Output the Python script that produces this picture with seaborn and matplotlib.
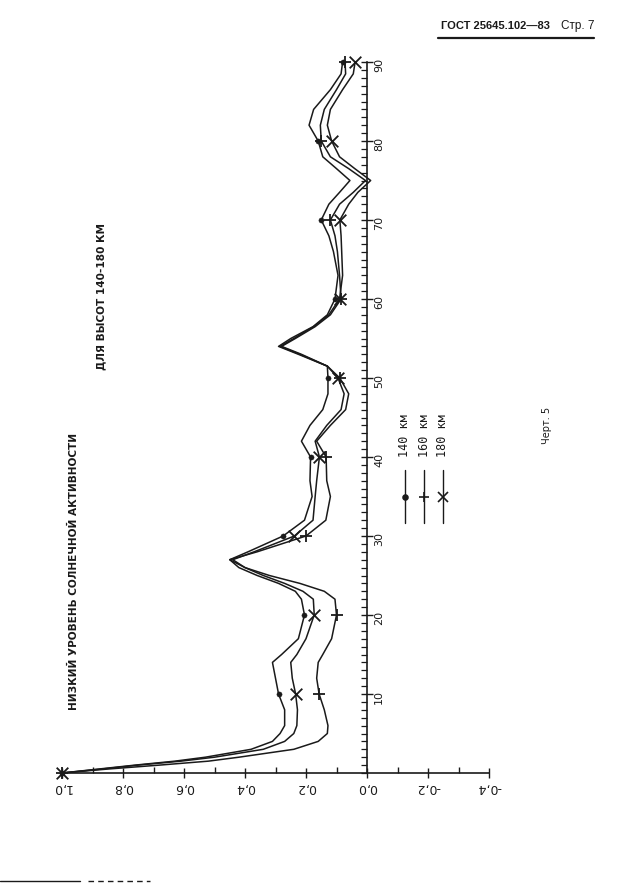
import numpy as np
import pandas as pd
import matplotlib
matplotlib.use('Agg')
import matplotlib.pyplot as plt
from matplotlib import font_manager as fm
import seaborn as sns
from matplotlib.lines import Line2D

sns.set_style('white')
plt.rcParams['font.family'] = ['DejaVu Sans']

# distance along the (rotated) horizontal axis, 0..90
dist = [0, 0.5, 1, 1.5, 2, 3, 4, 5, 6, 8, 10, 12, 14, 15, 17, 20, 22, 23, 24, 25,
        26, 27, 28, 30, 32, 35, 37, 40, 42, 44, 46, 48, 50, 51.5, 53, 54, 55, 56.5,
        58, 60, 63, 66, 68, 70, 72, 73.5, 75, 76.5, 78, 80, 82, 84, 86.5, 88.5, 90]

# 140 km (dots)
v140 = [1.0, 0.88, 0.76, 0.63, 0.53, 0.38, 0.31, 0.285, 0.27, 0.27, 0.29, 0.30, 0.31,
        0.28, 0.225, 0.205, 0.215, 0.235, 0.29, 0.36, 0.42, 0.45, 0.39, 0.275, 0.205,
        0.18, 0.187, 0.185, 0.215, 0.187, 0.145, 0.128, 0.128, 0.13, 0.225, 0.29, 0.25,
        0.177, 0.13, 0.105, 0.095, 0.11, 0.125, 0.15, 0.125, 0.09, 0.056, 0.10, 0.145,
        0.16, 0.19, 0.175, 0.12, 0.085, 0.08]

# 160 km (plus)
v160 = [1.0, 0.85, 0.68, 0.52, 0.42, 0.24, 0.16, 0.13, 0.128, 0.14, 0.157, 0.165, 0.16,
        0.145, 0.116, 0.10, 0.105, 0.14, 0.22, 0.32, 0.40, 0.45, 0.36, 0.20, 0.135,
        0.12, 0.132, 0.134, 0.165, 0.12, 0.07, 0.06, 0.089, 0.13, 0.215, 0.28, 0.235,
        0.17, 0.12, 0.085, 0.09, 0.097, 0.105, 0.12, 0.09, 0.045, 0.005, 0.06, 0.12,
        0.15, 0.153, 0.14, 0.10, 0.07, 0.072]

# 180 km (cross)
v180 = [1.0, 0.87, 0.75, 0.61, 0.50, 0.34, 0.27, 0.24, 0.23, 0.228, 0.234, 0.245, 0.25,
        0.23, 0.20, 0.173, 0.176, 0.21, 0.27, 0.34, 0.40, 0.44, 0.37, 0.238, 0.177,
        0.17, 0.165, 0.156, 0.17, 0.132, 0.085, 0.075, 0.095, 0.13, 0.22, 0.285, 0.24,
        0.175, 0.125, 0.09, 0.08, 0.083, 0.085, 0.089, 0.06, 0.03, -0.012, 0.04, 0.09,
        0.116, 0.13, 0.12, 0.08, 0.045, 0.039]

heights = ['140 км', '160 км', '180 км']
markers = ['o', '+', 'x']
value_ticks = [1.0, 0.8, 0.6, 0.4, 0.2, 0.0, -0.2, -0.4]
dist_ticks = [10, 20, 30, 40, 50, 60, 70, 80, 90]

df = pd.concat([pd.DataFrame({'dist': dist, 'value': v, 'height': h})
                for v, h in zip([v140, v160, v180], heights)], ignore_index=True)

# narrow face for the stencil-like titles, if there is one
names = {f.name for f in fm.fontManager.ttflist}
narrow = 'Liberation Sans Narrow' if 'Liberation Sans Narrow' in names else 'DejaVu Sans'
narrow_size = 10 if narrow != 'DejaVu Sans' else 7.6

fig = plt.figure(figsize=(6.36, 8.84), dpi=100)
W, H = 636, 884
# axes placed in page pixels: value 1.05..-0.45 horizontally, dist -2..92 vertically
ax = fig.add_axes([46.75 / W, 1 - 788.8 / H, 457.5 / W, 742.6 / H])
ax.set_facecolor('none')

ink = '#1a1a1a'
sns.lineplot(data=df, x='value', y='dist', units='height', estimator=None,
             sort=False, color=ink, lw=1.1, ax=ax)

for h, m in zip(heights, markers):
    sub = df[(df['height'] == h) & (df['dist'] % 10 == 0)]
    if m == 'o':
        sns.scatterplot(data=sub, x='value', y='dist', marker=m, s=14,
                        color=ink, edgecolor=ink, ax=ax)
    else:
        sns.scatterplot(data=sub, x='value', y='dist', marker=m, s=70,
                        color=ink, linewidth=1.3, ax=ax)

ax.set_xlim(1.05, -0.45)
ax.set_ylim(-2, 92)
ax.set_xlabel('')
ax.set_ylabel('')

for s in ['top', 'left']:
    ax.spines[s].set_visible(False)
ax.spines['bottom'].set_position(('data', 0))
ax.spines['bottom'].set_bounds(-0.4, 1.0)
ax.spines['right'].set_visible(True)
ax.spines['right'].set_position(('data', 0))
ax.spines['right'].set_bounds(0, 90)
for s in ['bottom', 'right']:
    ax.spines[s].set_color(ink)
    ax.spines[s].set_linewidth(1.2)

ax.yaxis.tick_right()
ax.set_xticks(value_ticks)
ax.set_xticklabels([f"{v:.1f}".replace('.', ',') for v in value_ticks])
ax.set_xticks(np.arange(-0.4, 1.01, 0.1), minor=True)
ax.set_yticks(dist_ticks)
ax.set_yticklabels([str(d) for d in dist_ticks])
ax.set_yticks(np.arange(0, 91, 1), minor=True)

ax.tick_params(axis='x', which='major', direction='inout', length=7, width=1,
               color=ink, labelsize=9, labelrotation=180, pad=2, labelcolor=ink,
               bottom=True)
ax.tick_params(axis='x', which='minor', direction='in', length=4, width=1,
               color=ink, bottom=True)
ax.tick_params(axis='y', which='major', direction='inout', length=8, width=1,
               color=ink, labelsize=8, labelrotation=90, pad=1, labelcolor=ink,
               right=True, left=False)
ax.tick_params(axis='y', which='minor', direction='in', length=4, width=0.9,
               color=ink, right=True, left=False)
if ax.get_legend():
    ax.get_legend().remove()

# header
fig.text(441 / W, 1 - 26 / H, 'ГОСТ 25645.102—83', fontsize=8,
         family='Liberation Sans', fontweight='bold', color=ink,
         va='center', ha='left')
fig.text(561 / W, 1 - 26 / H, 'Стр. 7', fontsize=8.5, family='Liberation Sans',
         color=ink, va='center', ha='left')
fig.add_artist(Line2D([438 / W, 594 / W], [1 - 38 / H, 1 - 38 / H],
                      color=ink, lw=1.6))

# titles (rotated like the chart)
fig.text(74 / W, 1 - 571 / H, 'НИЗКИЙ УРОВЕНЬ СОЛНЕЧНОЙ АКТИВНОСТИ',
         rotation=90, fontsize=narrow_size, family=narrow, fontweight='bold',
         color=ink, ha='center', va='center')
fig.text(101 / W, 1 - 297 / H, 'ДЛЯ ВЫСОТ 140-180 КМ', rotation=90,
         fontsize=narrow_size, family=narrow, fontweight='bold', color=ink,
         ha='center', va='center')

# hand-made legend, rotated
for xp, h, m in zip([405, 424, 443], heights, markers):
    fig.add_artist(Line2D([xp / W, xp / W], [1 - 523 / H, 1 - 470 / H],
                          color=ink, lw=1))
    fig.add_artist(Line2D([xp / W], [1 - 497 / H], marker=m, color=ink,
                          markersize=3.5 if m == 'o' else 7, mew=1.2))
    fig.text(xp / W, 1 - 436 / H, h, rotation=90, fontsize=8.5,
             family='DejaVu Sans Mono', color=ink, ha='center', va='center')

fig.text(547 / W, 1 - 425 / H, 'Черт. 5', rotation=90, fontsize=7,
         color=ink, ha='center', va='center')

# bottom page rule
fig.add_artist(Line2D([0, 80 / W], [1 - 881 / H] * 2, color=ink, lw=1))
fig.add_artist(Line2D([88 / W, 150 / W], [1 - 881 / H] * 2, color=ink, lw=1,
                      ls=(0, (4, 3))))

fig.savefig('out.png', dpi=100, facecolor='white')
